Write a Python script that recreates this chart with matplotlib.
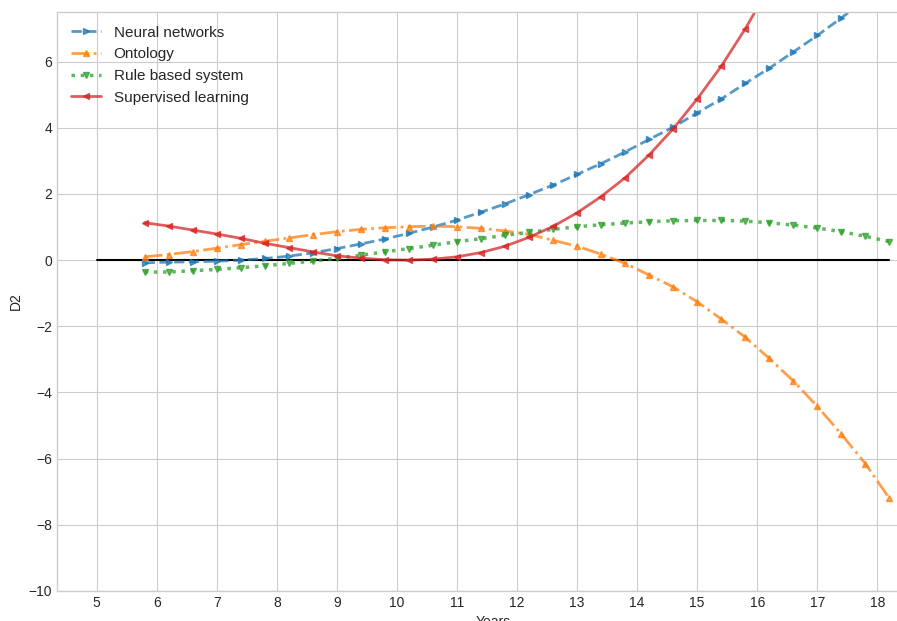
import numpy as np
import matplotlib
matplotlib.use("Agg")
import matplotlib.pyplot as plt

plt.style.use("seaborn-v0_8-whitegrid")
plt.rcParams['font.family'] = ['Liberation Sans', 'DejaVu Sans']

years = [5.8, 6.2, 6.6, 7.0, 7.4, 7.8, 8.2, 8.6, 9.0, 9.4, 9.8, 10.2, 10.6, 11.0, 11.4, 11.8,
         12.2, 12.6, 13.0, 13.4, 13.8, 14.2, 14.6, 15.0, 15.4, 15.8, 16.2, 16.6, 17.0, 17.4, 17.8, 18.2]

neural_networks = [-0.08, -0.06, -0.05, -0.03, 0.0, 0.05, 0.12, 0.22, 0.35, 0.49, 0.64, 0.81,
                   1.0, 1.21, 1.45, 1.7, 1.98, 2.27, 2.59, 2.92, 3.27, 3.65, 4.02, 4.45,
                   4.87, 5.34, 5.8, 6.29, 6.79, 7.32, 7.87, 8.43]
ontology = [0.1, 0.17, 0.26, 0.36, 0.47, 0.57, 0.67, 0.77, 0.86, 0.93, 0.98, 1.01,
            1.03, 1.01, 0.96, 0.88, 0.78, 0.6, 0.42, 0.18, -0.1, -0.45, -0.81, -1.26,
            -1.78, -2.33, -2.97, -3.65, -4.42, -5.26, -6.15, -7.2]
rule_based = [-0.36, -0.36, -0.32, -0.28, -0.23, -0.17, -0.1, -0.03, 0.06, 0.15, 0.25, 0.35,
              0.45, 0.56, 0.65, 0.75, 0.84, 0.93, 1.01, 1.07, 1.12, 1.16, 1.19, 1.2,
              1.2, 1.18, 1.13, 1.06, 0.97, 0.86, 0.72, 0.56]
supervised = [1.13, 1.03, 0.91, 0.79, 0.66, 0.51, 0.38, 0.25, 0.13, 0.06, 0.01, 0.0,
              0.03, 0.1, 0.23, 0.42, 0.69, 1.02, 1.43, 1.92, 2.49, 3.18, 3.97, 4.87,
              5.86, 6.99, 8.25, 9.6, 11.1, 12.7, 14.4, 16.3]

zero_line_x = [5, 18.2]
zero_line_y = [0, 0]

W, H = 897, 621
fig = plt.figure(figsize=(W / 100, H / 100), dpi=100)
ax = fig.add_axes([57 / W, (H - 591) / H, (929 - 57) / W, (591 - 12) / H])

ax.plot(zero_line_x, zero_line_y, color='black', linewidth=1.5)
ax.plot(years, neural_networks, linestyle='--', marker='>', color='#1f77b4', alpha=0.75,
        linewidth=2, markersize=5, label='Neural networks')
ax.plot(years, ontology, linestyle='-.', marker='^', color='#ff7f0e', alpha=0.75,
        linewidth=2, markersize=5, label='Ontology')
ax.plot(years, rule_based, linestyle=':', marker='v', color='#2ca02c', alpha=0.75,
        linewidth=2.5, markersize=5, label='Rule based system')
ax.plot(years, supervised, linestyle='-', marker='<', color='#d62728', alpha=0.75,
        linewidth=2, markersize=5, label='Supervised learning')

ax.set_xlim(4.34, 18.86)
ax.set_ylim(-10, 7.5)
ax.set_xticks(range(5, 19))
ax.set_yticks(range(-10, 7, 2))
ax.tick_params(labelsize=10)
ax.set_xlabel('Years', fontsize=10)
ax.set_ylabel('D2', fontsize=10)
ax.legend(loc='upper left', fontsize=11)

fig.savefig('out.png', dpi=100)
